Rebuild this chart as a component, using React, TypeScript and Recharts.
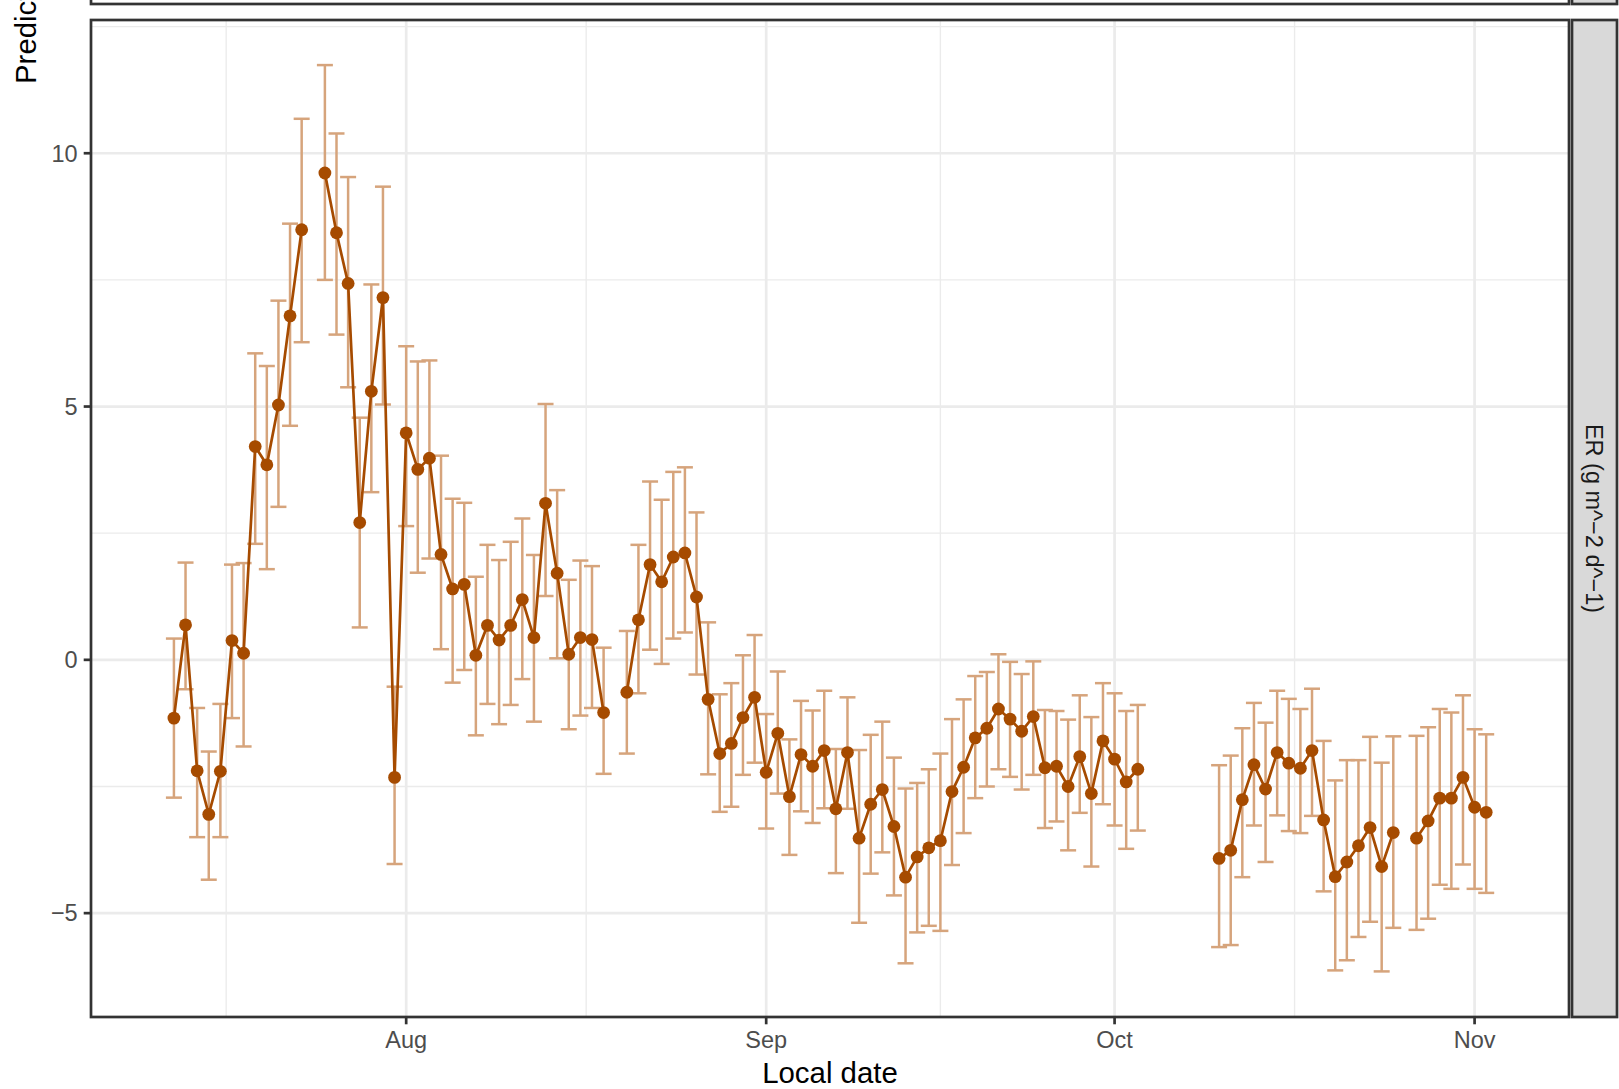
import React from 'react';
import { ComposedChart, Line, ErrorBar, XAxis, YAxis, CartesianGrid } from 'recharts';

// Day offsets from 1 August (negative values are July days); missing days are absent
const days = [
  -20, -19, -18, -17, -16, -15, -14, -13, -12, -11, -10, -9,
  -7, -6, -5, -4, -3, -2, -1, 0, 1, 2, 3, 4, 5, 6, 7, 8, 9, 10, 11, 12, 13, 14, 15, 16, 17,
  19, 20, 21, 22, 23, 24, 25, 26, 27, 28, 29, 30, 31, 32, 33, 34, 35, 36, 37, 38, 39, 40,
  41, 42, 43, 44, 45, 46, 47, 48, 49, 50, 51, 52, 53, 54, 55, 56, 57, 58, 59, 60, 61, 62, 63,
  70, 71, 72, 73, 74, 75, 76, 77, 78, 79, 80, 81, 82, 83, 84, 85,
  87, 88, 89, 90, 91, 92, 93,
];

const estimate = [
  -1.15, 0.69, -2.19, -3.05, -2.2, 0.38, 0.13, 4.21, 3.85, 5.03, 6.79, 8.49,
  9.61, 8.43, 7.43, 2.71, 5.3, 7.15, -2.32, 4.48, 3.76, 3.98, 2.08, 1.4, 1.49, 0.09, 0.68, 0.39, 0.68, 1.19, 0.44, 3.09, 1.71, 0.11, 0.44, 0.4, -1.04,
  -0.64, 0.79, 1.88, 1.54, 2.03, 2.11, 1.24, -0.78, -1.85, -1.65, -1.14, -0.74, -2.22, -1.45, -2.7, -1.87, -2.1, -1.79, -2.94, -1.83, -3.52, -2.85,
  -2.56, -3.29, -4.29, -3.89, -3.71, -3.57, -2.6, -2.12, -1.54, -1.35, -0.97, -1.17, -1.41, -1.12, -2.13, -2.1, -2.5, -1.91, -2.64, -1.6, -1.96, -2.41, -2.16,
  -3.92, -3.76, -2.76, -2.07, -2.55, -1.83, -2.04, -2.14, -1.79, -3.16, -4.28, -3.99, -3.67, -3.31, -4.08, -3.41,
  -3.52, -3.18, -2.73, -2.73, -2.32, -2.91, -3.01,
];

const lower = [
  -2.72, -0.58, -3.5, -4.34, -3.5, -1.15, -1.71, 2.29, 1.79, 3.02, 4.62, 6.27,
  7.5, 6.42, 5.38, 0.64, 3.31, 5.04, -4.03, 2.64, 1.72, 2.0, 0.21, -0.45, -0.2, -1.49, -0.87, -1.27, -0.89, -0.38, -1.22, 1.26, 0.03, -1.37, -1.1, -0.95, -2.25,
  -1.85, -0.66, 0.2, -0.08, 0.42, 0.54, -0.29, -2.26, -3.0, -2.9, -2.27, -2.03, -3.33, -2.64, -3.85, -2.99, -3.22, -2.93, -4.21, -2.94, -5.19, -4.22,
  -3.8, -4.65, -5.99, -5.38, -5.25, -5.35, -4.05, -3.42, -2.73, -2.5, -2.16, -2.31, -2.56, -2.27, -3.32, -3.19, -3.76, -3.02, -4.08, -2.85, -3.27, -3.73, -3.37,
  -5.67, -5.63, -4.29, -3.27, -3.99, -3.07, -3.38, -3.42, -3.08, -4.57, -6.13, -5.93, -5.47, -5.17, -6.15, -5.29,
  -5.33, -5.11, -4.44, -4.52, -4.04, -4.52, -4.6,
];

const upper = [
  0.42, 1.92, -0.95, -1.81, -0.87, 1.88, 1.91, 6.05, 5.8, 7.09, 8.61, 10.68,
  11.74, 10.39, 9.53, 4.78, 7.41, 9.34, -0.53, 6.19, 5.89, 5.91, 4.03, 3.18, 3.1, 1.64, 2.27, 1.97, 2.33, 2.79, 2.07, 5.05, 3.35, 1.58, 1.96, 1.85, 0.24,
  0.57, 2.27, 3.52, 3.16, 3.71, 3.8, 2.91, 0.74, -0.68, -0.46, 0.09, 0.49, -1.07, -0.23, -1.57, -0.81, -1.0, -0.61, -1.76, -0.74, -1.78, -1.48,
  -1.22, -1.93, -2.54, -2.43, -2.16, -1.85, -1.17, -0.78, -0.32, -0.24, 0.11, -0.04, -0.28, -0.03, -0.99, -1.01, -1.18, -0.7, -1.13, -0.46, -0.66, -1.01, -0.89,
  -2.08, -1.89, -1.35, -0.85, -1.24, -0.61, -0.77, -0.97, -0.57, -1.6, -2.38, -1.98, -1.98, -1.52, -2.03, -1.51,
  -1.5, -1.33, -0.97, -1.04, -0.7, -1.37, -1.47,
];

// Axis ticks
const monthTicks = [0, 31, 61, 92];
const monthLabels = ['Aug', 'Sep', 'Oct', 'Nov'];
const minorX = [-15.5, 15.5, 46, 76.5];
const yTicks = [-5, 0, 5, 10];
const minorY = [-2.5, 2.5, 7.5, 12.5];

const stripLabel = 'ER (g m^\u22122 d^\u22121)';
const xTitle = 'Local date';
const yTitle = 'Predicted value';

const rows: { d: number; v: number | null; err?: number[] }[] = [];
for (let d = days[0]; d <= days[days.length - 1]; d++) {
  const i = days.indexOf(d);
  if (i < 0) rows.push({ d, v: null });
  else rows.push({ d, v: estimate[i], err: [estimate[i] - lower[i], upper[i] - estimate[i]] });
}

const FONT = '"Liberation Sans", Arial, Helvetica, sans-serif';
const LINE = '#A64B00';
const BAR = '#D6A47C';
const W = 1619;
const H = 1089;
const PL = 91, PR = 1569, PT = 20, PB = 1017;

const fmtY = (v: number) => (v < 0 ? '\u2212' + Math.abs(v) : String(v));
const fmtX = (v: number) => monthLabels[monthTicks.indexOf(v)] ?? '';

export default function App() {
  return (
    <div style={{ position: 'absolute', left: 0, top: 0, width: W, height: H, overflow: 'hidden', background: '#fff' }}>
      <ComposedChart width={W} height={H} data={rows} margin={{ top: PT, right: W - PR, bottom: 0, left: 0 }}>
        <CartesianGrid stroke="#EBEBEB" strokeWidth={1.35} horizontalValues={minorY} verticalValues={minorX} />
        <CartesianGrid stroke="#EBEBEB" strokeWidth={2.7} horizontalValues={yTicks} verticalValues={monthTicks} />
        <XAxis
          type="number"
          dataKey="d"
          domain={[-27.14, 100.13]}
          allowDataOverflow
          ticks={monthTicks}
          interval={0}
          tickFormatter={fmtX}
          height={H - PB}
          axisLine={false}
          tickLine={{ stroke: '#333333', strokeWidth: 2.7 }}
          tickSize={7.3}
          tickMargin={7}
          tick={{ fill: '#4D4D4D', fontSize: 23.5, fontFamily: FONT }}
        />
        <YAxis
          type="number"
          domain={[-7.05, 12.63]}
          allowDataOverflow
          ticks={yTicks}
          interval={0}
          tickFormatter={fmtY}
          width={PL}
          axisLine={false}
          tickLine={{ stroke: '#333333', strokeWidth: 2.7 }}
          tickSize={7.3}
          tickMargin={6}
          tick={{ fill: '#4D4D4D', fontSize: 23.5, fontFamily: FONT }}
        />
        <Line dataKey="v" stroke="none" dot={false} activeDot={false} isAnimationActive={false} connectNulls={false}>
          <ErrorBar dataKey="err" width={8} stroke={BAR} strokeWidth={2.5} direction="y" isAnimationActive={false} />
        </Line>
        <Line
          type="linear"
          dataKey="v"
          stroke={LINE}
          strokeWidth={2.7}
          dot={{ r: 6.4, fill: LINE, stroke: 'none' }}
          activeDot={false}
          isAnimationActive={false}
          connectNulls={false}
        />
      </ComposedChart>
      <svg width={W} height={H} style={{ position: 'absolute', left: 0, top: 0, pointerEvents: 'none' }}>
        {/* upper facet remnant */}
        <rect x={PL} y={-60} width={PR - PL} height={64} fill="none" stroke="#333333" strokeWidth={2.7} />
        <rect x={1572} y={-60} width={45} height={64} fill="#D9D9D9" stroke="#333333" strokeWidth={2.7} />
        {/* panel border */}
        <rect x={PL} y={PT} width={PR - PL} height={PB - PT} fill="none" stroke="#333333" strokeWidth={2.7} />
        {/* strip */}
        <rect x={1572} y={PT} width={45} height={PB - PT} fill="#D9D9D9" stroke="#333333" strokeWidth={2.7} />
        <text
          transform={`translate(1594, ${(PT + PB) / 2}) rotate(90)`}
          textAnchor="middle"
          dominantBaseline="central"
          fontFamily={FONT}
          fontSize={23.5}
          fill="#1A1A1A"
        >
          {stripLabel}
        </text>
        <text x={(PL + PR) / 2} y={1083} textAnchor="middle" fontFamily={FONT} fontSize={29.4} fill="#000">
          {xTitle}
        </text>
        <text transform="translate(35.5, 84) rotate(-90)" textAnchor="start" fontFamily={FONT} fontSize={29.4} fill="#000">
          {yTitle}
        </text>
      </svg>
    </div>
  );
}
